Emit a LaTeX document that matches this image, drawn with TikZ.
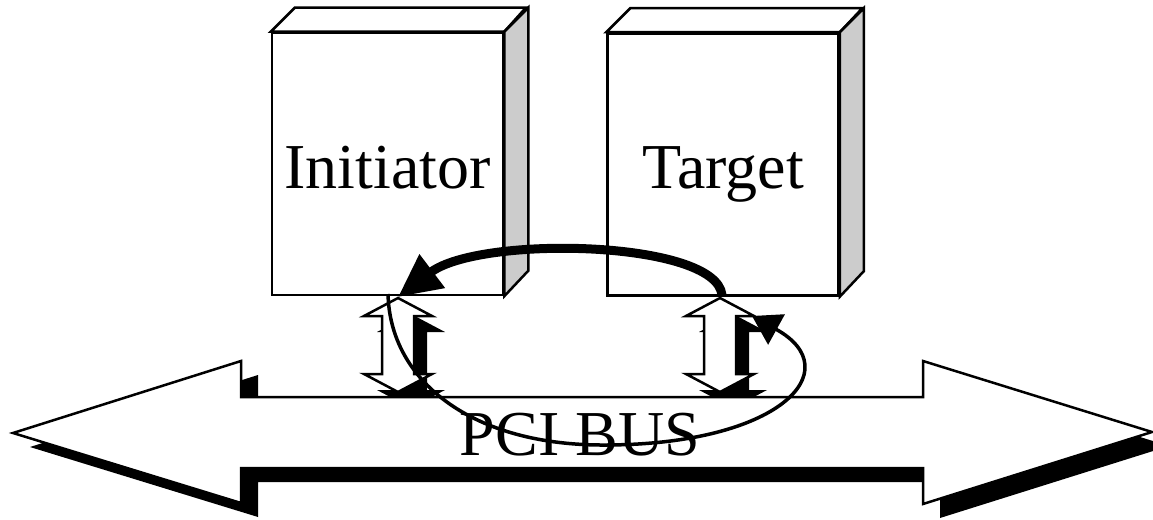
\documentclass[tikz,border=0pt]{standalone}
\usepackage{fontspec}
\setmainfont{Liberation Serif}
\usetikzlibrary{arrows.meta}

\begin{document}
\begin{tikzpicture}[x=1pt,y=-1pt,
   face/.style={draw,line width=2.5pt,fill=white,minimum width=231pt,minimum height=262pt,
                inner sep=0pt,text height=48pt,text depth=0pt,font=\fontsize{64}{70}\selectfont},
   topface/.style={draw,line width=2.5pt,fill=white},
   sideface/.style={draw,line width=2.5pt,fill=black!20},
   hollow/.style={draw,line width=2.5pt,fill=white},
   shade/.style={fill=black},
   busline/.style={draw,line width=2.5pt,fill=white}]
   \useasboundingbox (0,0) rectangle (1153,519);
   % the two boxes
   \node[face] (ini) at (387.5,164) {Initiator};
   \draw[topface] (ini.north west) -- ++(24,-24) -- ++(231,0) -- (ini.north east) -- cycle;
   \draw[sideface] (ini.north east) -- ++(24,-24) -- ++(0,263) -- (ini.south east) -- cycle;
   \node[face] (tgt) at (723,164.5) {Target};
   \draw[topface] (tgt.north west) -- ++(24,-24) -- ++(232,0) -- (tgt.north east) -- cycle;
   \draw[sideface] (tgt.north east) -- ++(24,-24) -- ++(0,263) -- (tgt.south east) -- cycle;
   \coordinate (iniin) at (398,297);
   \coordinate (iniout) at (388,294);
   \coordinate (tgtout) at (722,295);
   \coordinate (tgtin) at (752,316);
   % shadows of the port arrows
   \foreach \cx in {398,720}
      \fill[shade,shift={(\cx+13,16)}] (0,298) -- (34,316) -- (16,316) -- (16,374) -- (34,374)
         -- (0,392) -- (-34,374) -- (-16,374) -- (-16,316) -- (-34,316) -- cycle;
   % the bus
   \fill[shade,shift={(17,14)}] (13,433) -- (241,361) -- (241,397) -- (923,397) -- (923,361)
      -- (1152,432) -- (923,504) -- (923,468) -- (241,468) -- (241,503) -- cycle;
   \draw[busline] (13,433) -- (241,361) -- (241,397) -- (923,397) -- (923,361)
      -- (1152,432) -- (923,504) -- (923,468) -- (241,468) -- (241,503) -- cycle;
   % the port arrows
   \foreach \cx in {398,720}
      \draw[hollow,shift={(\cx,0)}] (0,298) -- (34,316) -- (16,316) -- (16,374) -- (34,374)
         -- (0,392) -- (-34,374) -- (-16,374) -- (-16,316) -- (-34,316) -- cycle;
   \node[anchor=base,inner sep=0pt,font=\fontsize{64}{70}\selectfont] (bus) at (580,455) {PCI BUS};
   % the transaction
   \draw[line width=9pt,-{Triangle[length=43pt,width=40pt]}]
      (tgtout) .. controls (716,240) and (480,235) .. (iniin);
   \draw[line width=3.5pt,-{Triangle[length=28pt,width=34pt]}]
      (iniout) .. controls (390,380) and (470,444) .. (600,445)
      .. controls (780,446) and (850,370) .. (tgtin);
\end{tikzpicture}
\end{document}
